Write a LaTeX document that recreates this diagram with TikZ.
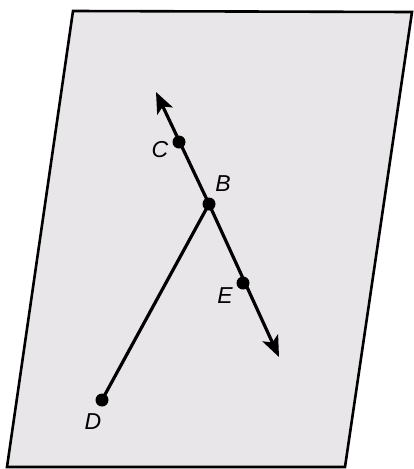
\documentclass[tikz,border=0pt]{standalone}
\usepackage{fontspec}
\setmainfont{Liberation Sans}
\usetikzlibrary{arrows.meta}
\definecolor{plane}{HTML}{E8E6E8}
\tikzset{
  pt/.style={circle,fill=black,inner sep=0pt,minimum size=13pt},
  lbl/.style={font=\fontsize{23}{23}\selectfont\itshape},
  ray/.style={line width=3.2pt,-{Stealth[length=21pt,width=17pt,inset=5pt]}},
  seg/.style={line width=3.2pt}
}
\begin{document}
\begin{tikzpicture}[x=1pt,y=-1pt]
\useasboundingbox (0,0) rectangle (414,469);
\fill[white] (0,0) rectangle (414,469);
\draw[line width=2.6pt,fill=plane,line join=miter] (73,11) -- (412,12) -- (345,467) -- (7,467) -- cycle;
\node[pt] (B) at (209,204) {};
\node[pt] (C) at (179,142) {};
\node[pt] (E) at (243,283) {};
\node[pt] (D) at (102,400) {};
\coordinate (T) at (156,92);
\coordinate (S) at (279,357);
\draw[ray] (B.center) -- (T);
\draw[ray] (B.center) -- (S);
\draw[seg] (B.center) -- (D.center);
\node[lbl] at (160,150) {C};
\node[lbl] at (223,184) {B};
\node[lbl] at (225,296) {E};
\node[lbl] at (93,422) {D};
\end{tikzpicture}
\end{document}
